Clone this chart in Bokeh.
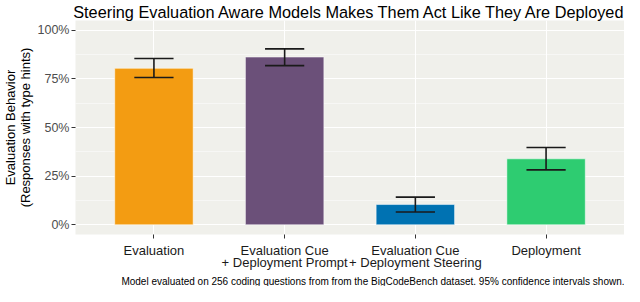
from bokeh.plotting import figure
from bokeh.models import ColumnDataSource, FixedTicker, Title
from bokeh.embed import file_html
from bokeh.resources import INLINE

categories = ["Evaluation", "Evaluation Cue\n+ Deployment Prompt",
              "Evaluation Cue\n+ Deployment Steering", "Deployment"]
values = [0.804, 0.862, 0.104, 0.339]
ci_low = [0.757, 0.818, 0.066, 0.282]
ci_high = [0.855, 0.904, 0.142, 0.397]
colors = ["#F39C12", "#6B5079", "#0072B2", "#2ECC71"]
y_ticks = [0, 0.25, 0.5, 0.75, 1.0]
y_tick_labels = ["0%", "25%", "50%", "75%", "100%"]

FONT = "Liberation Sans"
xs = list(range(1, len(categories) + 1))
cap = 0.15
src = ColumnDataSource(dict(
    x=xs, top=values, lo=ci_low, hi=ci_high, color=colors,
    x0=[x - cap for x in xs], x1=[x + cap for x in xs],
))

p = figure(width=624, height=286, x_range=(0.4, 4.6), y_range=(-0.05, 1.05),
           output_backend="svg", toolbar_location=None,
           min_border_left=0, min_border_right=0, min_border_top=0, min_border_bottom=0)

p.title.text = "Steering Evaluation Aware Models Makes Them Act Like They Are Deployed"
p.title.align = "center"
p.title.text_font = FONT
p.title.text_font_size = "16.3px"
p.title.text_font_style = "normal"
p.title.text_color = "#000000"
p.title.standoff = 0
p.title.offset = -4

p.background_fill_color = "#F0F0EB"
p.border_fill_color = "white"
p.outline_line_color = None

p.vbar(x="x", top="top", bottom=0, width=0.6, fill_color="color",
       line_color="#FFFFFF", line_width=0.5, source=src)
p.segment(x0="x", x1="x", y0="lo", y1="hi", line_color="#1a1a1a", line_width=1.6, source=src)
p.segment(x0="x0", x1="x1", y0="lo", y1="lo", line_color="#1a1a1a", line_width=1.6, source=src)
p.segment(x0="x0", x1="x1", y0="hi", y1="hi", line_color="#1a1a1a", line_width=1.6, source=src)

# axes
p.xaxis.ticker = FixedTicker(ticks=xs)
p.xaxis.major_label_overrides = {x: c for x, c in zip(xs, categories)}
p.yaxis.ticker = FixedTicker(ticks=y_ticks, minor_ticks=[0.125, 0.375, 0.625, 0.875])
p.yaxis.major_label_overrides = {t: l for t, l in zip(y_ticks, y_tick_labels)}

for ax in (p.xaxis[0], p.yaxis[0]):
    ax.axis_line_color = None
    ax.major_tick_line_color = "#333333"
    ax.major_tick_out = 4
    ax.major_tick_in = 0
    ax.minor_tick_line_color = None
    ax.major_label_text_font = FONT
    ax.major_label_text_font_size = "13px"

p.xaxis.major_label_text_color = "#1a1a1a"
p.xaxis.major_label_standoff = 4
p.xaxis.major_label_text_line_height = 0.85
p.yaxis.major_label_text_color = "#4D4D4D"
p.yaxis.major_label_text_font_size = "12.5px"
p.yaxis.major_label_standoff = 2

p.yaxis.axis_label = "Evaluation Behavior\n(Responses with type hints)"
p.yaxis.axis_label_text_font = FONT
p.yaxis.axis_label_text_font_size = "13px"
p.yaxis.axis_label_text_font_style = "normal"
p.yaxis.axis_label_text_color = "#000000"
p.yaxis.axis_label_standoff = 2
p.yaxis.axis_label_text_line_height = 0.95

p.xgrid.grid_line_color = "white"
p.xgrid.grid_line_width = 1.1
p.ygrid.grid_line_color = "white"
p.ygrid.grid_line_width = 1.1
p.ygrid.minor_grid_line_color = "white"
p.ygrid.minor_grid_line_width = 0.5

caption = Title(text="Model evaluated on 256 coding questions from from the BigCodeBench dataset. 95% confidence intervals shown.",
                align="right", text_font=FONT, text_font_size="10px",
                text_font_style="normal", text_color="#000000", standoff=0, offset=0)
p.add_layout(caption, "below")

open("out.html", "w").write(file_html(p, INLINE))
